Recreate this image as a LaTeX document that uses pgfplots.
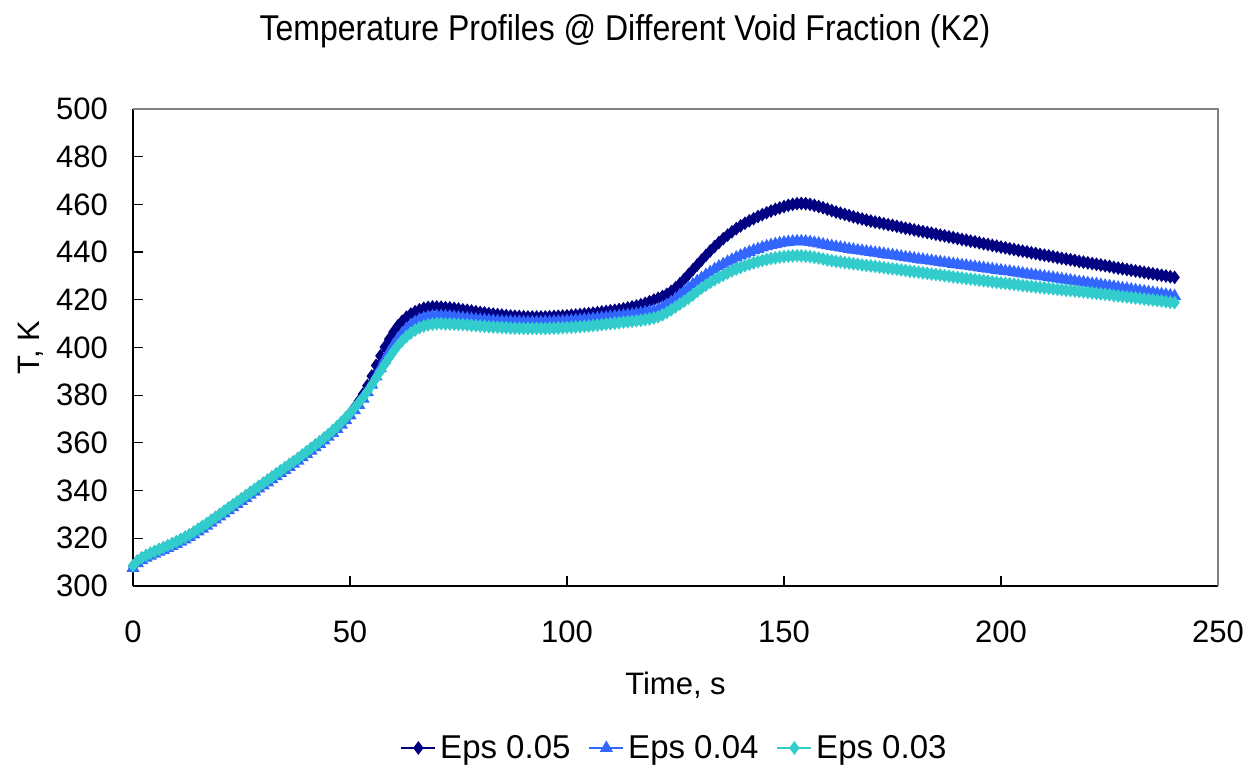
\documentclass[border=0pt]{standalone}
\usepackage{pgfplots}
\usepackage{pgfplotstable}
\usepackage{fontspec}
\setmainfont{Liberation Sans}
\pgfplotsset{compat=1.18}
\definecolor{navyc}{HTML}{000080}
\definecolor{bluec}{HTML}{3366FF}
\definecolor{cyanc}{HTML}{33CCCC}
\pgfplotstableread{
t n b c
0 308.3 307.5 308.5
1 310.3 309.5 310.5
2 311.6 310.8 311.8
3 312.6 311.8 312.8
4 313.5 312.7 313.7
5 314.3 313.5 314.5
6 315.1 314.3 315.3
7 315.9 315.1 316.1
8 316.7 315.9 316.9
9 317.5 316.7 317.7
10 318.4 317.6 318.6
11 319.3 318.5 319.5
12 320.3 319.5 320.5
13 321.3 320.5 321.5
14 322.4 321.6 322.6
15 323.6 322.8 323.8
16 324.8 324.0 325.0
17 326.0 325.2 326.2
18 327.3 326.5 327.5
19 328.6 327.8 328.8
20 329.9 329.1 330.1
21 331.2 330.4 331.4
22 332.5 331.7 332.7
23 333.8 333.0 334.0
24 335.1 334.3 335.3
25 336.4 335.6 336.6
26 337.7 336.9 337.9
27 339.0 338.2 339.2
28 340.3 339.5 340.5
29 341.6 340.8 341.8
30 342.9 342.1 343.1
31 344.2 343.4 344.4
32 345.5 344.7 345.7
33 346.8 346.0 347.0
34 348.1 347.3 348.3
35 349.4 348.6 349.6
36 350.7 349.9 350.9
37 352.0 351.2 352.2
38 353.3 352.5 353.5
39 354.7 353.9 354.9
40 356.1 355.3 356.3
41 357.5 356.7 357.7
42 358.9 358.1 359.1
43 360.3 359.5 360.5
44 361.8 361.0 362.0
45 363.3 362.5 363.5
46 364.9 364.1 365.1
47 366.6 365.8 366.8
48 368.4 367.6 368.6
49 370.3 369.5 370.5
50 372.3 371.5 372.5
51 374.8 373.7 374.6
52 377.5 375.9 376.8
53 380.5 378.5 379.1
54 384.0 381.2 381.6
55 388.0 384.3 384.3
56 392.5 387.8 387.1
57 396.5 391.3 390.0
58 400.2 394.8 392.9
59 403.5 398.0 395.7
60 406.5 401.0 398.3
61 409.0 403.6 400.7
62 411.0 405.9 402.8
63 412.7 407.8 404.6
64 414.0 409.4 406.1
65 415.0 410.6 407.3
66 415.8 411.6 408.3
67 416.4 412.3 409.0
68 416.8 412.8 409.5
69 417.0 413.1 409.8
70 417.0 413.2 410.0
71 416.9 413.2 410.0
72 416.7 413.1 409.9
73 416.6 413.0 409.9
74 416.4 412.8 409.8
75 416.1 412.6 409.7
76 415.8 412.4 409.6
77 415.6 412.2 409.5
78 415.3 412.0 409.3
79 415.0 411.8 409.2
80 414.7 411.6 409.0
81 414.5 411.5 408.9
82 414.2 411.3 408.7
83 414.0 411.2 408.6
84 413.8 411.0 408.5
85 413.6 410.9 408.4
86 413.4 410.8 408.3
87 413.2 410.8 408.2
88 413.1 410.7 408.1
89 413.0 410.7 408.1
90 412.9 410.6 408.0
91 412.8 410.6 408.0
92 412.8 410.6 408.0
93 412.8 410.6 408.0
94 412.8 410.6 408.0
95 412.8 410.7 408.0
96 412.9 410.7 408.1
97 413.0 410.8 408.1
98 413.1 410.9 408.2
99 413.2 411.0 408.3
100 413.3 411.1 408.4
101 413.5 411.2 408.5
102 413.6 411.4 408.6
103 413.8 411.5 408.7
104 414.0 411.7 408.9
105 414.2 411.8 409.0
106 414.4 412.0 409.2
107 414.6 412.2 409.4
108 414.9 412.4 409.6
109 415.1 412.6 409.8
110 415.4 412.8 410.0
111 415.6 413.0 410.2
112 415.9 413.2 410.4
113 416.2 413.4 410.6
114 416.6 413.6 410.8
115 417.0 413.8 411.0
116 417.4 414.1 411.2
117 417.9 414.4 411.4
118 418.5 414.7 411.7
119 419.2 415.0 412.0
120 419.9 415.4 412.4
121 420.6 416.0 412.9
122 421.4 416.8 413.7
123 422.3 417.8 414.7
124 423.5 419.0 415.8
125 425.0 420.4 417.0
126 426.7 421.9 418.2
127 428.6 423.4 419.4
128 430.6 424.9 420.7
129 432.6 426.4 422.0
130 434.6 427.8 423.5
131 436.6 429.1 424.9
132 438.6 430.4 426.1
133 440.5 431.6 427.3
134 442.3 432.8 428.4
135 444.0 433.9 429.4
136 445.6 434.9 430.3
137 447.1 435.9 431.2
138 448.5 436.8 432.1
139 449.8 437.7 432.9
140 451.0 438.5 433.6
141 452.1 439.3 434.3
142 453.1 440.0 434.9
143 454.0 440.7 435.5
144 454.9 441.3 436.0
145 455.7 441.9 436.5
146 456.5 442.4 436.9
147 457.2 442.9 437.3
148 457.9 443.3 437.6
149 458.5 443.7 437.9
150 459.1 444.0 438.1
151 459.6 444.2 438.3
152 460.0 444.4 438.4
153 460.3 444.5 438.5
154 460.4 444.5 438.4
155 460.3 444.4 438.3
156 460.0 444.2 438.1
157 459.6 443.9 437.8
158 459.1 443.6 437.5
159 458.6 443.2 437.1
160 458.0 442.8 436.7
161 457.4 442.5 436.4
162 456.8 442.2 436.1
163 456.3 441.9 435.9
164 455.8 441.6 435.6
165 455.3 441.3 435.4
166 454.8 441.0 435.1
167 454.3 440.7 434.9
168 453.9 440.5 434.6
169 453.4 440.2 434.4
170 453.0 440.0 434.2
171 452.6 439.7 434.0
172 452.3 439.5 433.7
173 451.9 439.2 433.5
174 451.5 438.9 433.2
175 451.2 438.7 433.0
176 450.8 438.4 432.8
177 450.4 438.1 432.5
178 450.0 437.8 432.3
179 449.7 437.6 432.0
180 449.3 437.3 431.8
181 448.9 437.0 431.6
182 448.6 436.8 431.3
183 448.2 436.5 431.1
184 447.9 436.3 430.8
185 447.5 436.0 430.6
186 447.1 435.8 430.4
187 446.8 435.5 430.1
188 446.4 435.3 429.9
189 446.1 435.0 429.6
190 445.7 434.8 429.4
191 445.3 434.5 429.2
192 445.0 434.3 428.9
193 444.6 434.0 428.7
194 444.3 433.8 428.5
195 443.9 433.5 428.2
196 443.5 433.3 428.0
197 443.2 433.0 427.8
198 442.8 432.8 427.5
199 442.5 432.5 427.3
200 442.1 432.3 427.1
201 441.8 432.0 426.9
202 441.4 431.8 426.7
203 441.1 431.5 426.5
204 440.7 431.3 426.3
205 440.4 431.0 426.0
206 440.1 430.7 425.8
207 439.7 430.5 425.6
208 439.4 430.2 425.4
209 439.0 430.0 425.2
210 438.7 429.7 425.0
211 438.4 429.4 424.8
212 438.1 429.2 424.6
213 437.7 428.9 424.4
214 437.4 428.6 424.2
215 437.1 428.4 424.0
216 436.8 428.1 423.9
217 436.5 427.8 423.7
218 436.1 427.5 423.5
219 435.8 427.3 423.3
220 435.5 427.0 423.1
221 435.2 426.7 422.9
222 434.9 426.5 422.7
223 434.6 426.2 422.5
224 434.3 425.9 422.3
225 434.0 425.7 422.1
226 433.6 425.4 421.8
227 433.3 425.1 421.6
228 433.0 424.8 421.4
229 432.7 424.6 421.2
230 432.4 424.3 421.0
231 432.1 424.0 420.8
232 431.8 423.7 420.6
233 431.5 423.5 420.3
234 431.2 423.2 420.1
235 430.9 422.9 419.9
236 430.6 422.6 419.7
237 430.3 422.3 419.5
238 430.0 422.1 419.2
239 429.7 421.8 419.0
240 429.4 421.5 418.8
}\data
\begin{document}
\begin{tikzpicture}
\path[use as bounding box] (-66.5pt,-91.5pt) rectangle (562.5pt,293pt);
\begin{axis}[
  at={(0,0)}, anchor=south west,
  scale only axis, width=542.5pt, height=238.5pt,
  xmin=0, xmax=250, ymin=300, ymax=500,
  xtick={0,50,...,250}, ytick={300,320,...,500},
  axis lines=left, axis line style={-, black, line width=0.6pt},
  tick align=inside, major tick length=5pt,
  tick style={black, line width=0.6pt},
  xtick pos=bottom, ytick pos=left,
  /pgf/number format/assume math mode=true,
  ticklabel style={font=\fontsize{15.5}{18}\selectfont},
  xticklabel style={anchor=base, yshift=-28.5pt, inner sep=0pt},
  yticklabel style={anchor=east, xshift=-12.4pt, inner sep=0pt},
  xlabel={Time, s}, ylabel={T, K},
  xlabel style={font=\fontsize{15.5}{18}\selectfont, at={(axis description cs:0.5,0)}, anchor=base, yshift=-54.5pt},
  ylabel style={font=\fontsize{15.5}{18}\selectfont, at={(axis description cs:-0.094,0.5)}, anchor=center},
  title={\scalebox{1}[1.12]{Temperature Profiles @ Different Void Fraction (K2)}},
  title style={font=\fontsize{16}{19}\selectfont, at={(axis description cs:0.4535,1)}, anchor=base, yshift=28pt},
  legend style={at={(axis description cs:0.5,-0.3396)}, anchor=center, draw=none, fill=none,
    font=\fontsize{16.5}{19}\selectfont, legend columns=3,
    /tikz/every even column/.append style={column sep=7pt}},
  legend cell align=left,
  clip=false,
]
\addplot[color=navyc, line width=0.8pt, mark=diamond*, mark size=2.8pt, mark options={solid, fill=navyc}] table[x=t, y=n] {\data};
\addlegendentry{Eps 0.05}
\addplot[color=bluec, line width=0.8pt, mark=triangle*, mark size=3pt, mark options={solid, fill=bluec}] table[x=t, y=b] {\data};
\addlegendentry{Eps 0.04}
\addplot[color=cyanc, line width=0.8pt, mark=diamond*, mark size=2.8pt, mark options={solid, fill=cyanc}] table[x=t, y=c] {\data};
\addlegendentry{Eps 0.03}
\draw[gray, line width=0.8pt] (rel axis cs:0,1) -- (rel axis cs:1,1) -- (rel axis cs:1,0);
\end{axis}
\end{tikzpicture}
\end{document}
